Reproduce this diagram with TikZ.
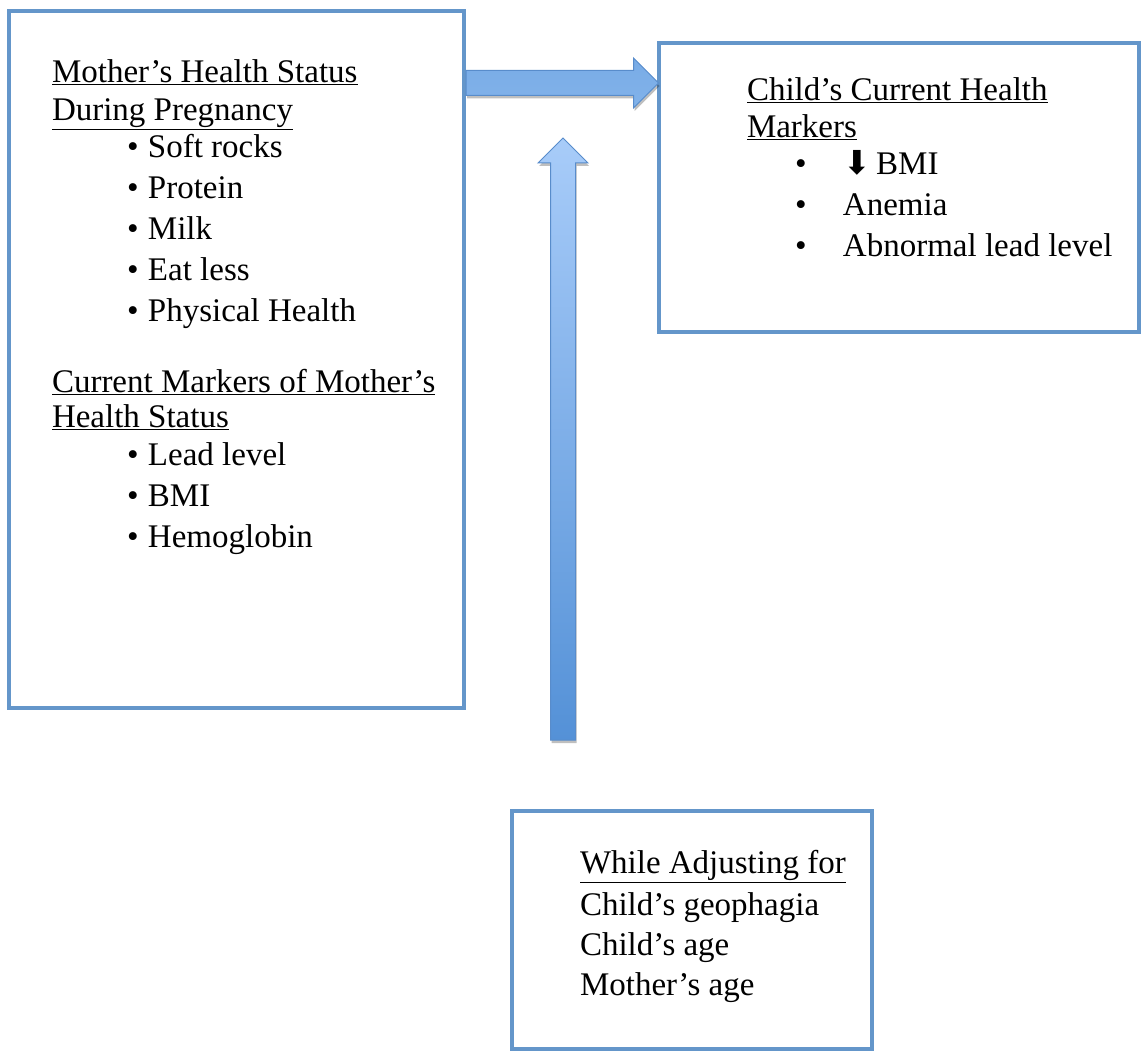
\documentclass[tikz,border=0pt]{standalone}
\usepackage{fontspec}
\setmainfont{Liberation Serif}
\newfontfamily\arrowfont{DejaVu Sans}
\usetikzlibrary{positioning,calc,shadows}

\definecolor{boxblue}{RGB}{100,150,202}
\definecolor{arrowedge}{RGB}{88,140,203}
\definecolor{arrowlt}{RGB}{168,204,249}
\definecolor{arrowmid}{RGB}{150,193,242}
\definecolor{arrowdk}{RGB}{84,145,215}

% bullet item: bullet offset, text
\newcommand{\itm}[2]{\makebox[96pt][l]{\hspace*{#1}\textbullet}#2}

\begin{document}
\begin{tikzpicture}[x=1pt,y=-1pt,
  box/.style={draw=boxblue,line width=4pt,fill=white,inner sep=0pt,outer sep=0pt,anchor=north west},
  txt/.style={inner sep=0pt,outer sep=0pt,align=left,font=\fontsize{33}{41}\selectfont},
  blockarrow/.style={draw=arrowedge,line width=1pt,line join=miter,
    drop shadow={shadow xshift=1pt,shadow yshift=-3pt,opacity=.25,fill=black}}]
  \useasboundingbox (0,0) rectangle (1141,1051);
  % boxes
  \node[box,minimum width=455.5pt,minimum height=696pt] (mombox) at (8.5,11.5) {};
  \node[box,minimum width=480.5pt,minimum height=288pt] (childbox) at (658.5,43.5) {};
  \node[box,minimum width=360pt,minimum height=238pt] (adjbox) at (512,811) {};
  % texts
  \node[txt,below right=48pt and 43.5pt of mombox.north west] (momtext)
    {\underline{Mother’s Health Status}\\[-3pt]
     \underline{During Pregnancy}\\[-4pt]
     \itm{75pt}{Soft rocks}\\
     \itm{75pt}{Protein}\\
     \itm{75pt}{Milk}\\
     \itm{75pt}{Eat less}\\
     \itm{75pt}{Physical Health}\\[30pt]
     \underline{Current Markers of Mother’s}\\[-6pt]
     \underline{Health Status}\\[-3pt]
     \itm{75pt}{Lead level}\\
     \itm{75pt}{BMI}\\
     \itm{75pt}{Hemoglobin}};
  \node[txt,below right=34pt and 88.5pt of childbox.north west] (childtext)
    {\underline{Child’s Current Health}\\[-4pt]
     \underline{Markers}\\[-4pt]
     \itm{48pt}{{\arrowfont ⬇}\,BMI}\\
     \itm{48pt}{Anemia}\\
     \itm{48pt}{Abnormal lead level}};
  \node[txt,below right=39.5pt and 68pt of adjbox.north west] (adjtext)
    {\underline{While Adjusting for}\\[1pt]
     Child’s geophagia\\[-1pt]
     Child’s age\\[-1pt]
     Mother’s age};
  % block arrows
  \coordinate (rs) at ($(mombox.north east)+(2,71.5)$);
  \coordinate (rt) at (childbox.west |- rs);
  \coordinate (us) at (563,740);
  \coordinate (ut) at (563,138);
  \path[blockarrow,top color=arrowdk!45!arrowmid,middle color=arrowlt!40!arrowmid,bottom color=arrowdk!30!arrowmid]
    ($(rs)+(0,-12.5)$) -- ($(rt)+(-25,-12.5)$) -- ($(rt)+(-25,-25)$) -- (rt)
    -- ($(rt)+(-25,25)$) -- ($(rt)+(-25,12.5)$) -- ($(rs)+(0,12.5)$) -- cycle;
  \path[blockarrow,top color=arrowlt,bottom color=arrowdk]
    ($(us)+(-12.5,0)$) -- ($(ut)+(-12.5,25)$) -- ($(ut)+(-25,25)$) -- (ut)
    -- ($(ut)+(25,25)$) -- ($(ut)+(12.5,25)$) -- ($(us)+(12.5,0)$) -- cycle;
\end{tikzpicture}
\end{document}
